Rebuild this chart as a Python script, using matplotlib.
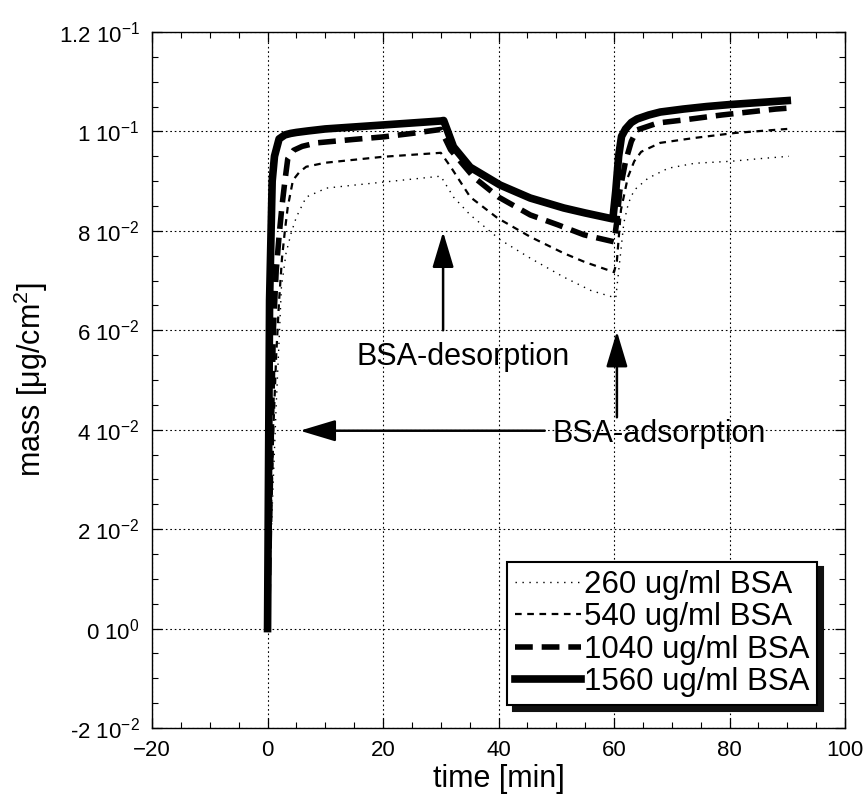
import matplotlib
matplotlib.use("Agg")
import matplotlib.pyplot as plt
from matplotlib.ticker import MultipleLocator, FixedLocator, FixedFormatter

plt.rcParams['font.family'] = ['Liberation Sans', 'DejaVu Sans']
plt.rcParams['mathtext.default'] = 'regular'

# --- measured adsorption / desorption curves (time in min, mass in ug/cm^2) ---
t_260 = [0, 1.0, 1.5, 2.0, 2.4, 3.2, 4.1, 5.0, 6.7, 10.2, 15, 20, 25, 30,
         32.2, 35.1, 40.3, 45.5, 51.3, 56, 60.3,
         61.0, 61.7, 62.5, 63.5, 65.9, 69.4, 74, 80.3, 85, 90.3]
m_260 = [0.0, 0.030, 0.045, 0.058, 0.0687, 0.0755, 0.0796, 0.0828, 0.0868, 0.0886, 0.0892, 0.0898, 0.0904, 0.0910,
         0.0868, 0.0832, 0.0782, 0.0745, 0.0707, 0.0680, 0.0665,
         0.0740, 0.0816, 0.0856, 0.0882, 0.0906, 0.0926, 0.0936, 0.0940, 0.0945, 0.0950]

t_540 = [0, 1.0, 1.5, 2.0, 2.5, 3.0, 3.5, 4.4, 5.5, 6.7, 10, 15, 20, 25, 30,
         31.7, 35.1, 39.8, 45.5, 51.3, 55, 60,
         60.5, 61.2, 62.4, 63.5, 64.7, 68, 74, 81, 90]
m_540 = [0.0, 0.040, 0.055, 0.066, 0.0745, 0.0800, 0.0848, 0.0902, 0.0918, 0.0929, 0.0937, 0.0943, 0.0949, 0.0953, 0.0957,
         0.0929, 0.0868, 0.0826, 0.0788, 0.0755, 0.0737, 0.0717,
         0.0740, 0.0842, 0.0908, 0.0940, 0.0959, 0.0977, 0.0987, 0.0997, 0.1005]

t_1040 = [0, 0.5, 1.0, 1.5, 2.0, 2.5, 3.0, 3.5, 4.5, 6, 8.5, 15, 20, 25, 30,
          31.7, 35.7, 40, 45.5, 50.3, 54.8, 60,
          60.5, 61, 62, 63, 64, 67.6, 72, 78.6, 88, 90.3]
m_1040 = [0.0, 0.030, 0.060, 0.072, 0.079, 0.085, 0.090, 0.0945, 0.0962, 0.0970, 0.0977, 0.0984, 0.0989, 0.0996, 0.1004,
          0.0963, 0.0908, 0.0868, 0.0832, 0.0812, 0.0792, 0.0778,
          0.0820, 0.0880, 0.0940, 0.0980, 0.1003, 0.1017, 0.1023, 0.1033, 0.1045, 0.1047]

t_1560 = [0, 0.35, 0.8, 1.2, 2.0, 3, 4, 5, 7, 10, 15, 20, 25, 30, 30.5,
          32.2, 35.1, 40.3, 45.5, 51.3, 55, 59.8,
          60.3, 60.8, 61.3, 62, 63, 64, 66, 68, 72, 76, 80, 85, 90]
m_1560 = [0.0, 0.066, 0.090, 0.095, 0.0985, 0.0993, 0.0996, 0.0998, 0.1001, 0.1005, 0.1009, 0.1013, 0.1017, 0.1021, 0.1022,
          0.0969, 0.0928, 0.0892, 0.0866, 0.0846, 0.0836, 0.0824,
          0.0880, 0.0950, 0.0990, 0.1005, 0.1018, 0.1025, 0.1033, 0.1039, 0.1045, 0.1050, 0.1054, 0.1058, 0.1062]

labels = ['260 ug/ml BSA', '540 ug/ml BSA', '1040 ug/ml BSA', '1560 ug/ml BSA']

y_ticks = [-0.02, 0.0, 0.02, 0.04, 0.06, 0.08, 0.10, 0.12]
y_ticklabels = [r'-2 10$^{-2}$', r'0 10$^{0}$', r'2 10$^{-2}$', r'4 10$^{-2}$',
                r'6 10$^{-2}$', r'8 10$^{-2}$', r'1 10$^{-1}$', r'1.2 10$^{-1}$']

fig = plt.figure(figsize=(8.64, 8.0), dpi=100)
ax = fig.add_axes([0.176, 0.09, 0.802, 0.87])

ax.plot(t_260, m_260, color='k', lw=1.0, ls=(0, (1, 4)), label=labels[0], zorder=3)
ax.plot(t_540, m_540, color='k', lw=1.6, ls=(0, (3, 2.5)), label=labels[1], zorder=3)
ax.plot(t_1040, m_1040, color='k', lw=4.0, ls=(0, (3.2, 1.6)), label=labels[2], zorder=3)
ax.plot(t_1560, m_1560, color='k', lw=5.5, ls='-', label=labels[3], zorder=3,
        solid_joinstyle='round')

ax.set_xlim(-20, 100)
ax.set_ylim(-0.02, 0.12)
ax.xaxis.set_major_locator(MultipleLocator(20))
ax.xaxis.set_minor_locator(MultipleLocator(5))
ax.yaxis.set_major_locator(FixedLocator(y_ticks))
ax.yaxis.set_major_formatter(FixedFormatter(y_ticklabels))
ax.yaxis.set_minor_locator(MultipleLocator(0.005))

ax.tick_params(which='both', direction='in', top=True, right=True, colors='k')
ax.tick_params(which='major', length=7, width=0.9, labelsize=16, pad=9)
ax.tick_params(which='minor', length=4, width=0.8)
for s in ax.spines.values():
    s.set_linewidth(1.0)
    s.set_color('k')

ax.grid(True, which='major', color='k', lw=0.8, ls=(0, (1.5, 2.5)))
ax.set_axisbelow(True)

ax.set_xlabel('time [min]', fontsize=22, labelpad=2)
ax.set_ylabel(r'mass [$\mu$g/cm$^{2}$]', fontsize=22, labelpad=6)

arrow_kw = dict(arrowstyle='-|>,head_length=1.0,head_width=0.3', color='k', lw=1.8,
                shrinkA=0, shrinkB=0, mutation_scale=22)
ax.annotate('', xy=(30.4, 0.0798), xytext=(30.4, 0.0600), arrowprops=arrow_kw)
ax.text(33.8, 0.0546, 'BSA-desorption', fontsize=22, ha='center', va='center')

ax.annotate('', xy=(60.5, 0.0598), xytext=(60.5, 0.0425), arrowprops=arrow_kw)
ax.annotate('', xy=(5.6, 0.0398), xytext=(48.0, 0.0398), arrowprops=arrow_kw)
ax.text(49.3, 0.0392, 'BSA-adsorption', fontsize=22, ha='left', va='center')

leg = ax.legend(loc='lower right', bbox_to_anchor=(0.96, 0.033), borderaxespad=0,
                fontsize=22.5, handlelength=2.1, handletextpad=0.1, labelspacing=0.08,
                borderpad=0.25, fancybox=False, framealpha=1,
                shadow={'ox': 4, 'oy': -4, 'color': '#111111', 'alpha': 1})
leg.get_frame().set_edgecolor('k')
leg.get_frame().set_linewidth(1.5)

fig.savefig('out.png', dpi=100)
